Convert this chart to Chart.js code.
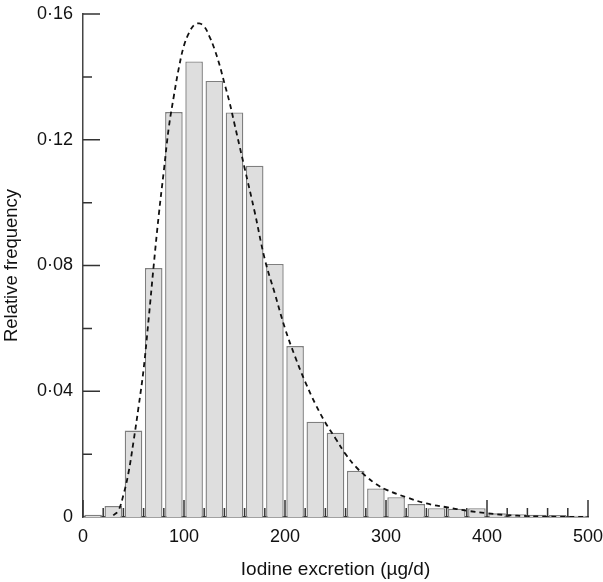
<!DOCTYPE html>
<html>
<head>
<meta charset="utf-8">
<script src="https://cdn.jsdelivr.net/npm/chart.js@4.4.1/dist/chart.umd.min.js"></script>
<style>
  html, body { margin: 0; padding: 0; background: #fff; }
  #wrap { width: 603px; height: 582px; }
</style>
</head>
<body>
<div id="wrap"><canvas id="chart" width="603" height="582"></canvas></div>
<script>
// histogram bins (centre of each 20 ug/d bin) and relative frequency
const binCentres = [10, 30, 50, 70, 90, 110, 130, 150, 170, 190, 210, 230, 250,
                    270, 290, 310, 330, 350, 370, 390, 410, 430, 450, 470, 490];
const relFreq = [0.0007, 0.0035, 0.0275, 0.0792, 0.1288, 0.1449, 0.1387, 0.1287,
                 0.1117, 0.0805, 0.0544, 0.0303, 0.0268, 0.0147, 0.0091, 0.0063,
                 0.0041, 0.0028, 0.0026, 0.0028, 0.0012, 0.0009, 0.0007, 0.0006, 0.0004];

// fitted density curve (dashed)
const curveX = [30, 35, 40, 45, 50, 55, 60, 65, 70, 75, 80, 85, 90, 95, 100, 105,
                110, 115, 120, 125, 130, 135, 140, 145, 150, 155, 160, 170, 180,
                190, 200, 210, 220, 230, 240, 250, 260, 270, 280, 290, 300, 320,
                340, 360, 380, 400, 420, 440, 460, 480, 500];
const curveY = [0.0005, 0.002, 0.007, 0.014, 0.024, 0.035, 0.047, 0.063, 0.080,
                0.096, 0.110, 0.124, 0.134, 0.143, 0.150, 0.154, 0.1565, 0.157,
                0.156, 0.153, 0.149, 0.144, 0.138, 0.132, 0.125, 0.118, 0.111,
                0.097, 0.082, 0.071, 0.060, 0.051, 0.043, 0.036, 0.030, 0.025,
                0.020, 0.016, 0.013, 0.0105, 0.0087, 0.0063, 0.0043, 0.0031,
                0.0020, 0.0012, 0.0006, 0.0003, 0.0001, 0.0, 0.0];

// axis ticks
const xTickLabels = [0, 100, 200, 300, 400, 500];
const xMinorStep = 20;
const yTickLabels = [0, 0.04, 0.08, 0.12, 0.16];
const yMinorStep = 0.02;

const fontFamily = "'Liberation Sans', Arial, Helvetica, sans-serif";

// inward tick marks like the original figure
const inwardTicks = {
  id: 'inwardTicks',
  afterDatasetsDraw(chart) {
    const { ctx, scales: { x, y } } = chart;
    ctx.save();
    ctx.strokeStyle = '#333';
    ctx.lineWidth = 1.5;
    ctx.beginPath();
    for (let v = 0; v <= 500; v += xMinorStep) {
      const px = x.getPixelForValue(v);
      const len = xTickLabels.includes(v) ? 17 : 9;
      ctx.moveTo(px, y.bottom);
      ctx.lineTo(px, y.bottom - len);
    }
    for (let i = 1; i <= 8; i++) {
      const v = +(i * yMinorStep).toFixed(2);
      const py = y.getPixelForValue(v);
      const len = yTickLabels.includes(v) ? 17 : 9;
      ctx.moveTo(x.left, py);
      ctx.lineTo(x.left + len, py);
    }
    ctx.stroke();
    ctx.restore();
  }
};

new Chart(document.getElementById('chart'), {
  type: 'bar',
  data: {
    datasets: [
      {
        type: 'line',
        data: curveX.map((v, i) => ({ x: v, y: curveY[i] })),
        borderColor: '#111',
        borderWidth: 1.8,
        borderDash: [5, 4],
        pointRadius: 0,
        tension: 0.4,
        fill: false,
        order: 0
      },
      {
        type: 'bar',
        data: binCentres.map((v, i) => ({ x: v, y: relFreq[i] })),
        backgroundColor: '#dedede',
        borderColor: '#7f7f7f',
        borderWidth: 1.4,
        barPercentage: 0.87,
        categoryPercentage: 1,
        order: 1
      }
    ]
  },
  options: {
    responsive: false,
    animation: false,
    layout: { padding: { top: 14, right: 15, left: 0, bottom: 0 } },
    plugins: { legend: { display: false }, tooltip: { enabled: false } },
    scales: {
      x: {
        type: 'linear',
        min: 0,
        max: 500,
        offset: false,
        grid: { display: false, drawTicks: false },
        border: { display: true, color: '#444', width: 1.5 },
        ticks: {
          stepSize: 100,
          padding: 9,
          color: '#111',
          font: { family: fontFamily, size: 18 },
          maxRotation: 0
        },
        title: {
          display: true,
          text: 'Iodine excretion (µg/d)',
          color: '#111',
          font: { family: fontFamily, size: 19 },
          padding: { top: 4, bottom: 1 }
        },
        afterFit(s) {
          s.height = 65;
          s.paddingLeft = 0;
          s.paddingRight = 0;
        }
      },
      y: {
        min: 0,
        max: 0.16,
        grid: { display: false, drawTicks: false },
        border: { display: true, color: '#444', width: 1.5 },
        ticks: {
          stepSize: 0.04,
          padding: 10,
          color: '#111',
          font: { family: fontFamily, size: 18 },
          callback: v => v === 0 ? '0' : v.toFixed(2).replace('.', '·')
        },
        title: {
          display: true,
          text: 'Relative frequency',
          color: '#111',
          font: { family: fontFamily, size: 18.5 },
          padding: { top: 1, bottom: 4 }
        },
        afterFit(s) {
          s.width = 83;
          s.paddingTop = 0;
          s.paddingBottom = 0;
        }
      }
    }
  },
  plugins: [inwardTicks]
});
</script>
</body>
</html>
